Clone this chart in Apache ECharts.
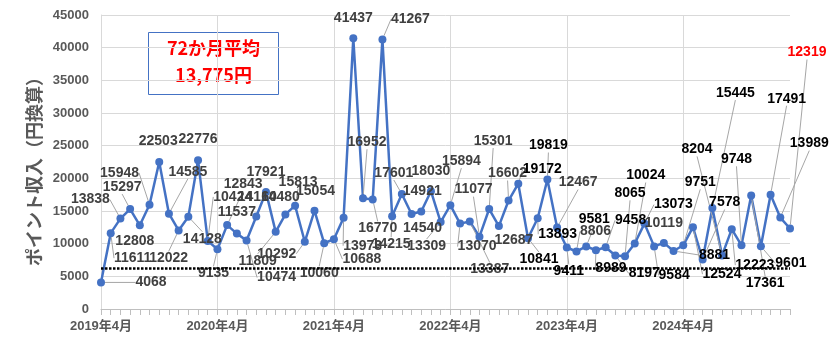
<!DOCTYPE html>
<html><head><meta charset="utf-8">
<script src="https://cdn.jsdelivr.net/npm/echarts@6/dist/echarts.min.js"></script>
<style>
html,body{margin:0;padding:0;background:#fff;}
#wrap{width:837px;height:346px;box-sizing:border-box;border:1px solid #d9d9d9;position:relative;}
#chart{position:absolute;left:-1px;top:-1px;width:837px;height:346px;}
</style></head>
<body><div id="wrap"><div id="chart"></div></div>
<script>
const categories = [
 "2019年4月","2019年5月","2019年6月","2019年7月","2019年8月","2019年9月","2019年10月","2019年11月","2019年12月","2020年1月","2020年2月","2020年3月",
 "2020年4月","2020年5月","2020年6月","2020年7月","2020年8月","2020年9月","2020年10月","2020年11月","2020年12月","2021年1月","2021年2月","2021年3月",
 "2021年4月","2021年5月","2021年6月","2021年7月","2021年8月","2021年9月","2021年10月","2021年11月","2021年12月","2022年1月","2022年2月","2022年3月",
 "2022年4月","2022年5月","2022年6月","2022年7月","2022年8月","2022年9月","2022年10月","2022年11月","2022年12月","2023年1月","2023年2月","2023年3月",
 "2023年4月","2023年5月","2023年6月","2023年7月","2023年8月","2023年9月","2023年10月","2023年11月","2023年12月","2024年1月","2024年2月","2024年3月",
 "2024年4月","2024年5月","2024年6月","2024年7月","2024年8月","2024年9月","2024年10月","2024年11月","2024年12月","2025年1月","2025年2月","2025年3月"
];
const pointIncome = [
 4068, 11611, 13838, 15297, 12808, 15948, 22503, 14585, 12022, 14128, 22776, 10424,
 9135, 12843, 11537, 10474, 14160, 17921, 11809, 14480, 15813, 10292, 15054, 10060,
 10688, 13973, 41437, 16952, 16770, 41267, 14215, 17601, 14540, 14921, 18030, 13309,
 15894, 13070, 13387, 11077, 15301, 12687, 16602, 19172, 10841, 13893, 19819, 12467,
 9411, 8806, 9581, 8989, 9458, 8197, 8065, 10024, 13073, 9584, 10119, 8881,
 9751, 12524, 7578, 15445, 8204, 12223, 9748, 17361, 9601, 17491, 13989, 12319
];
const yTicks = [0,5000,10000,15000,20000,25000,30000,35000,40000,45000];
const baselineValue = 6200;
const averageText = ["72か月平均", "13,775円"];
const yAxisTitle = "ポイント収入（円換算）";

// label placement (styling only, pixel offsets from each point)
const labelOffsets = [[50,0],[22,25],[-30,-19],[-8,-22],[-5,16],[-30,-32],[-1,-21],[19,-42],[-10,28],[14,22],[0,-21],[25,-44],
 [-4,24],[16,-41],[0,-21],[30,37],[1,-19],[0,-20],[-18,29],[-5,-17],[3,-24],[-28,12],[1,-20],[-5,30],
 [28,20],[19,28],[0,-20],[4,-56],[5,29],[28,-20],[-1,28],[-8,-21],[11,14],[1,-20],[0,-20],[-14,24],
 [11,-44],[17,23],[20,48],[-6,-47],[4,-68],[15,14],[-1,-27],[24,-15],[11,21],[20,16],[1,-34],[21,-45],
 [2,24],[19,-20],[8,-27],[15,18],[25,-27],[29,18],[5,-63],[11,-68],[29,-19],[20,29],[0,-20],[41,4],
 [17,-63],[29,47],[22,-57],[23,-115],[-25,-106],[23,36],[-5,-86],[14,88],[30,17],[16,-96],[29,-74],[17,-176]];
const greyLabelIdx = new Set([...Array(43).keys(), 47, 49, 58]);

const scatterData = pointIncome.map((v, i) => {
  const off = labelOffsets[i];
  const far = Math.hypot(off[0], off[1]) > 22;
  const last = i === pointIncome.length - 1;
  return {
    value: [i, v],
    label: {
      offset: off,
      color: last ? '#FF0000' : (greyLabelIdx.has(i) ? '#404040' : '#000000')
    },
    labelLine: { show: far }
  };
});

const chart = echarts.init(document.getElementById('chart'), null, {renderer: 'canvas'});
const FONT = '"Liberation Sans", Arial, "Noto Sans CJK JP", sans-serif';
chart.setOption({
  animation: false,
  backgroundColor: '#ffffff',
  textStyle: { fontFamily: FONT },
  grid: { left: 101, right: 47, top: 15, bottom: 37, containLabel: false },
  xAxis: {
    type: 'category',
    data: categories,
    boundaryGap: false,
    axisLine: { show: true, lineStyle: { color: '#bfbfbf', width: 1 } },
    axisTick: { show: true, interval: 0, length: 6, lineStyle: { color: '#bfbfbf' } },
    axisLabel: { interval: 11, color: '#595959', fontSize: 13, fontWeight: 'bold', fontFamily: FONT, margin: 11 },
    splitLine: { show: true, interval: 11, lineStyle: { color: '#d9d9d9', width: 1 } }
  },
  yAxis: {
    type: 'value',
    min: yTicks[0], max: yTicks[yTicks.length - 1], interval: yTicks[1] - yTicks[0],
    axisLine: { show: true, lineStyle: { color: '#d9d9d9' } },
    axisTick: { show: false },
    axisLabel: { color: '#595959', fontSize: 13, fontWeight: 'bold', fontFamily: FONT, margin: 12, formatter: v => String(v) },
    splitLine: { show: true, lineStyle: { color: '#d9d9d9', width: 1 } }
  },
  graphic: [
    {
      type: 'text', x: 34, y: 167, rotation: Math.PI / 2,
      style: { text: yAxisTitle, font: 'bold 18px "Noto Sans CJK JP", sans-serif', fill: '#595959', align: 'center', verticalAlign: 'middle' }
    },
    {
      type: 'group', left: 148, top: 32,
      children: [
        { type: 'rect', shape: { x: 0, y: 0, width: 130, height: 62 }, style: { fill: '#ffffff', stroke: '#4472C4', lineWidth: 1 } },
        { type: 'text', x: 65, y: 16, style: { text: averageText[0], font: 'bold 18px "Noto Sans CJK JP", sans-serif', fill: '#FF0000', align: 'center', verticalAlign: 'middle' } },
        { type: 'text', x: 65, y: 43, style: { text: averageText[1], font: 'bold 18px "Noto Sans CJK JP", sans-serif', fill: '#FF0000', align: 'center', verticalAlign: 'middle' } }
      ]
    }
  ],
  series: [{
    type: 'line',
    data: pointIncome,
    showSymbol: false,
    lineStyle: { color: '#4472C4', width: 2.5 },
    itemStyle: { color: '#4472C4' },
    markLine: {
      silent: true, symbol: 'none', label: { show: false },
      lineStyle: { color: '#000000', type: [2.5, 1.5], width: 2.5 },
      data: [[{ xAxis: categories[0], yAxis: baselineValue }, { xAxis: categories[categories.length - 1], yAxis: baselineValue }]]
    },
    z: 2
  }, {
    type: 'scatter',
    data: scatterData,
    symbol: 'circle',
    symbolSize: 8,
    itemStyle: { color: '#4472C4', opacity: 1 },
    label: {
      show: true, position: 'inside', fontSize: 14, fontWeight: 'bold', fontFamily: FONT,
      align: 'center', verticalAlign: 'middle'
    },
    labelLine: { show: false, lineStyle: { color: '#a6a6a6', width: 1 } },
    z: 3
  }]
});
</script></body></html>
